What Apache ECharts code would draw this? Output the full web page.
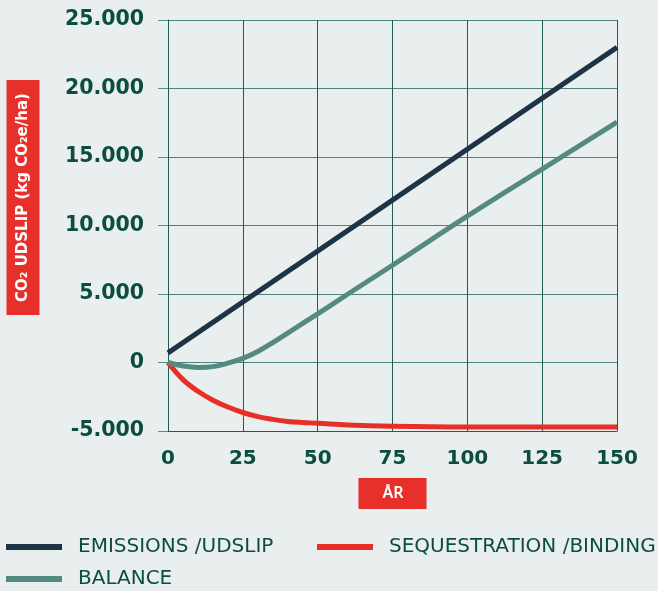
<!DOCTYPE html>
<html>
<head>
<meta charset="utf-8">
<script src="https://cdn.jsdelivr.net/npm/echarts@6/dist/echarts.min.js"></script>
<style>
html,body{margin:0;padding:0;background:#e9efef;}
#chart{width:658px;height:591px;}
</style>
</head>
<body>
<div id="chart"></div>
<script>
// Data
var years = [0, 5, 10, 15, 20, 25, 30, 35, 40, 45, 50, 60, 75, 100, 125, 150];
var emissionYears = [0, 150];
var emissions = [700, 23000];
var sequestration = [0, -1250, -2100, -2750, -3250, -3650, -3950, -4150, -4300, -4380, -4430, -4560, -4650, -4700, -4700, -4700];
var balance = [0, -250, -360, -300, -50, 300, 800, 1450, 2150, 2850, 3550, 4980, 7100, 10680, 14120, 17550];
var xTicks = [0, 25, 50, 75, 100, 125, 150];
var yTicks = [-5000, 0, 5000, 10000, 15000, 20000, 25000];
var seriesNames = ['EMISSIONS /UDSLIP', 'SEQUESTRATION /BINDING', 'BALANCE'];

function pairs(xs, ys) { return xs.map(function (x, i) { return [x, ys[i]]; }); }
function fmtY(v) {
  var s = Math.abs(v) >= 1000 ? (Math.abs(v) / 1000) + '.000' : String(Math.abs(v));
  return (v < 0 ? '-' : '') + s;
}

var textColor = '#0b4d40';
var gridColor = '#1f5d51';
var legendText = { color: textColor, fontSize: 20, lineHeight: 20, fontFamily: 'DejaVu Sans', padding: [0, 0, 0, 11] };
function legendAt(name, left, top) {
  return { data: [name], left: left, top: top, padding: 0, icon: 'rect', itemWidth: 56, itemHeight: 6, textStyle: legendText };
}

var chart = echarts.init(document.getElementById('chart'), null, { renderer: 'canvas' });
chart.setOption({
  backgroundColor: '#e9efef',
  animation: false,
  grid: { left: 168, right: 41, top: 20, bottom: 160, containLabel: false },
  xAxis: {
    type: 'value', min: xTicks[0], max: xTicks[xTicks.length - 1], interval: 25,
    name: 'ÅR', nameLocation: 'middle', nameGap: 47,
    nameTextStyle: { color: '#fff', fontSize: 16, fontWeight: 600, fontFamily: 'Noto Sans', backgroundColor: '#e8302a', padding: [7, 23, 8, 24], verticalAlign: 'top' },
    axisLine: { show: true, onZero: false, lineStyle: { color: gridColor, width: 1 } },
    axisTick: { show: false },
    axisLabel: { color: textColor, fontSize: 20, fontWeight: 'bold', fontFamily: 'DejaVu Sans', margin: 18 },
    splitLine: { show: true, lineStyle: { color: gridColor, width: 1 } }
  },
  yAxis: {
    type: 'value', min: yTicks[0], max: yTicks[yTicks.length - 1], interval: 5000,
    axisLine: { show: true, onZero: false, lineStyle: { color: gridColor, width: 1 } },
    axisTick: { show: true, length: 10, lineStyle: { color: '#5a8c82', width: 1 } },
    axisLabel: { color: textColor, fontSize: 20.5, fontWeight: 'bold', fontFamily: 'DejaVu Sans', margin: 24, formatter: fmtY },
    splitLine: { show: true, lineStyle: { color: '#4f8379', width: 1 } }
  },
  legend: [
    legendAt(seriesNames[0], 6, 537),
    legendAt(seriesNames[1], 317, 537),
    legendAt(seriesNames[2], 6, 569)
  ],
  graphic: [{
    type: 'text', x: 23, y: 197.5, rotation: Math.PI / 2,
    style: {
      text: 'CO₂ UDSLIP (kg CO₂e/ha)', fill: '#fff', font: 'bold 15px "DejaVu Sans"',
      backgroundColor: '#e8302a', padding: [9, 13, 9, 13], align: 'center', verticalAlign: 'middle'
    }
  }],
  series: [
    { name: seriesNames[1], type: 'line', data: pairs(years, sequestration), smooth: 0.4, symbol: 'none',
      lineStyle: { color: '#e63027', width: 5 }, itemStyle: { color: '#e63027' } },
    { name: seriesNames[0], type: 'line', data: pairs(emissionYears, emissions), symbol: 'none',
      lineStyle: { color: '#1e3446', width: 5 }, itemStyle: { color: '#1e3446' } },
    { name: seriesNames[2], type: 'line', data: pairs(years, balance), smooth: 0.4, symbol: 'none',
      lineStyle: { color: '#558a80', width: 5 }, itemStyle: { color: '#558a80' } }
  ]
});
</script>
</body>
</html>
